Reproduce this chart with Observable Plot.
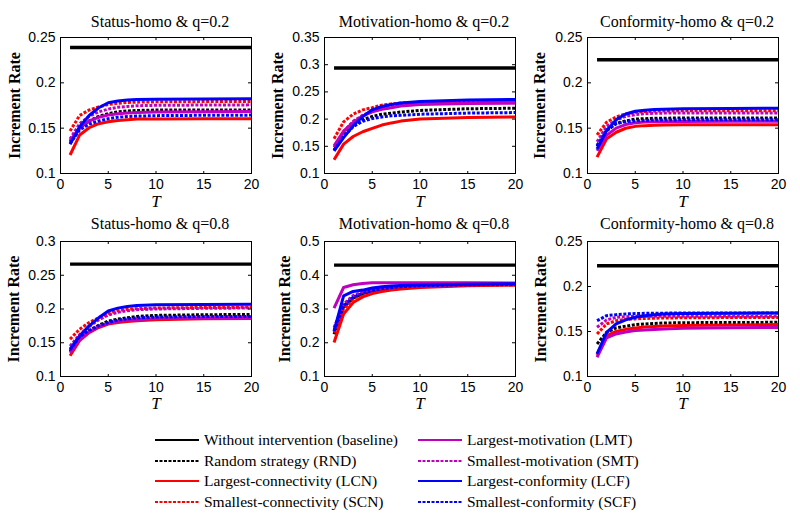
<!DOCTYPE html>
<html><head><meta charset="utf-8">
<script src="https://cdn.jsdelivr.net/npm/d3@7"></script>
<script src="https://cdn.jsdelivr.net/npm/@observablehq/plot@0.6"></script>
<style>
body{margin:0;background:#fff;}
#root{position:relative;width:800px;height:521px;overflow:hidden;background:#fff;}
.panel{position:absolute;}
.leg{position:absolute;height:20px;line-height:20px;font-family:"Liberation Serif","Times New Roman",serif;font-size:15.5px;color:#000;white-space:nowrap;}
.legline{position:absolute;}
</style></head><body><div id="root"></div>
<script>
// ---------- data ----------
const T = [1, 2, 3, 4, 5, 6, 7, 8, 10, 15, 20];
const xTicks = [0, 5, 10, 15, 20];
const seriesNames = ["Without intervention (baseline)", "Random strategy (RND)", "Largest-connectivity (LCN)", "Smallest-connectivity (SCN)", "Largest-motivation (LMT)", "Smallest-motivation (SMT)", "Largest-conformity (LCF)", "Smallest-conformity (SCF)"];
const seriesKeys = ["BASE", "RND", "LCN", "SCN", "LMT", "SMT", "LCF", "SCF"];
const panelTitles = ["Status-homo & q=0.2", "Motivation-homo & q=0.2", "Conformity-homo & q=0.2", "Status-homo & q=0.8", "Motivation-homo & q=0.8", "Conformity-homo & q=0.8"];
const yTicks1 = [0.1, 0.15, 0.2, 0.25];
const yTicks2 = [0.1, 0.15, 0.2, 0.25, 0.3, 0.35];
const yTicks3 = [0.1, 0.15, 0.2, 0.25];
const yTicks4 = [0.1, 0.15, 0.2, 0.25, 0.3];
const yTicks5 = [0.1, 0.2, 0.3, 0.4, 0.5];
const yTicks6 = [0.1, 0.15, 0.2, 0.25];

const statusQ02 = {
  BASE: [0.239, 0.239, 0.239, 0.239, 0.239, 0.239, 0.239, 0.239, 0.239, 0.239, 0.239],
  RND:  [0.135, 0.150, 0.158, 0.163, 0.166, 0.168, 0.169, 0.1695, 0.170, 0.170, 0.170],
  LCN:  [0.1204, 0.1424, 0.1505, 0.1549, 0.157, 0.1585, 0.1594, 0.160, 0.1602, 0.1604, 0.1604],
  SCN:  [0.1468, 0.164, 0.170, 0.1735, 0.176, 0.1775, 0.1783, 0.1787, 0.179, 0.1793, 0.1795],
  LMT:  [0.136, 0.150, 0.158, 0.162, 0.1645, 0.166, 0.1668, 0.1673, 0.1678, 0.1682, 0.1684],
  SMT:  [0.138, 0.155, 0.163, 0.168, 0.171, 0.173, 0.174, 0.1747, 0.1752, 0.1755, 0.1757],
  LCF:  [0.1322, 0.1516, 0.164, 0.1725, 0.178, 0.180, 0.181, 0.1815, 0.182, 0.1823, 0.1825],
  SCF:  [0.133, 0.148, 0.1545, 0.158, 0.1605, 0.162, 0.1628, 0.1633, 0.1638, 0.1642, 0.1644]
};
const motivationQ02 = {
  BASE: [0.294, 0.294, 0.294, 0.294, 0.294, 0.294, 0.294, 0.294, 0.294, 0.294, 0.294],
  RND:  [0.143, 0.172, 0.189, 0.199, 0.205, 0.209, 0.211, 0.213, 0.216, 0.219, 0.220],
  LCN:  [0.1252, 0.154, 0.168, 0.1767, 0.1828, 0.189, 0.193, 0.1963, 0.200, 0.203, 0.204],
  SCN:  [0.164, 0.195, 0.209, 0.217, 0.221, 0.2257, 0.228, 0.2295, 0.231, 0.2325, 0.233],
  LMT:  [0.151, 0.178, 0.194, 0.206, 0.2134, 0.218, 0.221, 0.224, 0.227, 0.2285, 0.229],
  SMT:  [0.148, 0.177, 0.196, 0.207, 0.214, 0.219, 0.222, 0.225, 0.228, 0.230, 0.231],
  LCF:  [0.1417, 0.166, 0.1877, 0.2048, 0.217, 0.2232, 0.227, 0.2294, 0.2324, 0.235, 0.236],
  SCF:  [0.142, 0.168, 0.186, 0.196, 0.201, 0.204, 0.206, 0.207, 0.209, 0.211, 0.212]
};
const conformityQ02 = {
  BASE: [0.2255, 0.2255, 0.2255, 0.2255, 0.2255, 0.2255, 0.2255, 0.2255, 0.2255, 0.2255, 0.2255],
  RND:  [0.130, 0.147, 0.155, 0.158, 0.160, 0.1605, 0.161, 0.161, 0.1612, 0.1613, 0.1613],
  LCN:  [0.118, 0.1382, 0.1455, 0.1499, 0.152, 0.1528, 0.1532, 0.1535, 0.1537, 0.1539, 0.1539],
  SCN:  [0.1426, 0.1565, 0.1624, 0.1657, 0.1675, 0.1683, 0.1687, 0.169, 0.1691, 0.1693, 0.1693],
  LMT:  [0.125, 0.142, 0.150, 0.154, 0.156, 0.1567, 0.157, 0.1572, 0.1574, 0.1576, 0.1576],
  SMT:  [0.135, 0.152, 0.159, 0.163, 0.165, 0.166, 0.1664, 0.1666, 0.1667, 0.1668, 0.1668],
  LCF:  [0.127, 0.1473, 0.1594, 0.1657, 0.1686, 0.1697, 0.1705, 0.171, 0.1714, 0.1718, 0.1719],
  SCF:  [0.131, 0.148, 0.155, 0.157, 0.158, 0.1585, 0.159, 0.159, 0.1592, 0.1594, 0.1594]
};
const statusQ08 = {
  BASE: [0.2665, 0.2665, 0.2665, 0.2665, 0.2665, 0.2665, 0.2665, 0.2665, 0.2665, 0.2665, 0.2665],
  RND:  [0.137, 0.156, 0.168, 0.176, 0.182, 0.185, 0.187, 0.189, 0.1905, 0.1915, 0.192],
  LCN:  [0.1307, 0.153, 0.165, 0.1726, 0.1776, 0.180, 0.1815, 0.1825, 0.184, 0.1855, 0.186],
  SCN:  [0.1554, 0.170, 0.180, 0.187, 0.1935, 0.1975, 0.1995, 0.2005, 0.2015, 0.2022, 0.2025],
  LMT:  [0.135, 0.155, 0.166, 0.174, 0.179, 0.182, 0.1835, 0.1845, 0.186, 0.187, 0.1875],
  SMT:  [0.145, 0.162, 0.174, 0.184, 0.191, 0.195, 0.1975, 0.199, 0.200, 0.201, 0.2015],
  LCF:  [0.1406, 0.160, 0.175, 0.187, 0.197, 0.2013, 0.2038, 0.2052, 0.2062, 0.2068, 0.207],
  SCF:  [0.139, 0.159, 0.168, 0.175, 0.180, 0.1835, 0.1855, 0.1868, 0.188, 0.1888, 0.189]
};
const motivationQ08 = {
  BASE: [0.430, 0.430, 0.430, 0.430, 0.430, 0.430, 0.430, 0.430, 0.430, 0.430, 0.430],
  RND:  [0.225, 0.305, 0.332, 0.345, 0.353, 0.358, 0.361, 0.364, 0.368, 0.371, 0.372],
  LCN:  [0.2008, 0.285, 0.319, 0.336, 0.346, 0.352, 0.356, 0.359, 0.364, 0.369, 0.371],
  SCN:  [0.230, 0.300, 0.330, 0.345, 0.354, 0.359, 0.362, 0.365, 0.368, 0.370, 0.371],
  LMT:  [0.3026, 0.3637, 0.3717, 0.3756, 0.3776, 0.378, 0.378, 0.378, 0.378, 0.3775, 0.377],
  SMT:  [0.245, 0.315, 0.340, 0.350, 0.357, 0.362, 0.365, 0.367, 0.370, 0.372, 0.373],
  LCF:  [0.2354, 0.339, 0.352, 0.356, 0.362, 0.366, 0.368, 0.3697, 0.371, 0.373, 0.375],
  SCF:  [0.235, 0.310, 0.335, 0.347, 0.355, 0.360, 0.363, 0.366, 0.369, 0.372, 0.373]
};
const conformityQ08 = {
  BASE: [0.223, 0.223, 0.223, 0.223, 0.223, 0.223, 0.223, 0.223, 0.223, 0.223, 0.223],
  RND:  [0.1362, 0.149, 0.154, 0.156, 0.1576, 0.1584, 0.159, 0.1594, 0.1598, 0.160, 0.1602],
  LCN:  [0.124, 0.1455, 0.150, 0.1524, 0.154, 0.155, 0.1555, 0.156, 0.1567, 0.1573, 0.1577],
  SCN:  [0.1473, 0.1584, 0.162, 0.1635, 0.164, 0.1645, 0.1648, 0.165, 0.1652, 0.1655, 0.1655],
  LMT:  [0.1214, 0.143, 0.1473, 0.1495, 0.151, 0.1517, 0.1523, 0.1528, 0.1535, 0.1542, 0.1545],
  SMT:  [0.1547, 0.1629, 0.1658, 0.1665, 0.1668, 0.167, 0.167, 0.167, 0.167, 0.167, 0.167],
  LCF:  [0.1252, 0.149, 0.1584, 0.1629, 0.1658, 0.1676, 0.1686, 0.1694, 0.170, 0.1703, 0.1705],
  SCF:  [0.162, 0.1676, 0.1687, 0.1695, 0.170, 0.1702, 0.1703, 0.1704, 0.1705, 0.1706, 0.1706]
};

// ---------- styles / layout ----------
const colors = {BASE: "#000000", RND: "#000000", LCN: "#ff0000", SCN: "#ff0000", LMT: "#bf00bf", SMT: "#bf00bf", LCF: "#0000ff", SCF: "#0000ff"};
const dashed = {BASE: false, RND: true, LCN: false, SCN: true, LMT: false, SMT: true, LCF: false, SCF: true};
const panels = [
  {data: statusQ02, ticks: yTicks1, left: 0, top: 0, row: 0, ylab: -41},
  {data: motivationQ02, ticks: yTicks2, left: 263.5, top: 0, row: 0, ylab: -42},
  {data: conformityQ02, ticks: yTicks3, left: 526.7, top: 0, row: 0, ylab: -42.5},
  {data: statusQ08, ticks: yTicks4, left: 0, top: 204, row: 1, ylab: -41.5},
  {data: motivationQ08, ticks: yTicks5, left: 263.5, top: 204, row: 1, ylab: -35},
  {data: conformityQ08, ticks: yTicks6, left: 526.7, top: 204, row: 1, ylab: -42}
];
const serif = "Liberation Serif, Times New Roman, serif";
const root = document.getElementById("root");
const W = 191;
panels.forEach((p, i) => {
  const H = p.row === 0 ? 136 : 135;
  const mT = 37, mL = 60, mR = 14, mB = p.row === 0 ? 31 : 30;
  const marks = [];
  for (const k of seriesKeys) {
    const rows = T.map((t, j) => ({T: t, v: p.data[k][j]}));
    marks.push(Plot.line(rows, {
      x: "T", y: "v", stroke: colors[k],
      strokeWidth: k === "BASE" ? 3.4 : 3,
      strokeDasharray: dashed[k] ? "3,1.6" : null,
      strokeLinejoin: "round", strokeLinecap: "butt"
    }));
  }
  marks.push(
    Plot.frame({stroke: "#000", strokeWidth: 1}),
    Plot.axisX(xTicks, {anchor: "bottom", tickSize: 0, tickPadding: 6, fontSize: 14, tickFormat: d => String(d), label: null}),
    Plot.axisY(p.ticks, {anchor: "left", tickSize: 0, tickPadding: 5, fontSize: 14, tickFormat: d => String(d), label: null}),
    Plot.axisY(p.ticks, {anchor: "right", tickSize: 3, fill: "none", dx: -W, label: null}),
    Plot.axisY(p.ticks, {anchor: "left", tickSize: 3, fill: "none", dx: W, label: null}),
    Plot.axisX(xTicks, {anchor: "top", tickSize: 3, fill: "none", dy: H, label: null}),
    Plot.axisX(xTicks, {anchor: "bottom", tickSize: 3, fill: "none", dy: -H, label: null}),
    Plot.text([panelTitles[i]], {text: d => d, frameAnchor: "top", textAnchor: "middle", lineAnchor: "bottom", dx: 4, dy: p.row === 0 ? -10.5 : -12.5, fontFamily: serif, fontSize: 16, fill: "#000"}),
    Plot.text(["Increment Rate"], {text: d => d, frameAnchor: "left", textAnchor: "middle", lineAnchor: "bottom", rotate: -90, dx: p.ylab, fontFamily: serif, fontSize: 16, fontWeight: "bold", fill: "#000"}),
    Plot.text(["T"], {text: d => d, frameAnchor: "bottom", textAnchor: "middle", lineAnchor: "bottom", dy: p.row === 0 ? 33 : 32, fontFamily: serif, fontSize: 17, fontStyle: "italic", fill: "#000"})
  );
  const svg = Plot.plot({
    width: mL + W + mR, height: mT + H + mB,
    marginLeft: mL, marginRight: mR, marginTop: mT, marginBottom: mB,
    x: {domain: [0, 20], label: null},
    y: {domain: [p.ticks[0], p.ticks[p.ticks.length - 1]], label: null},
    style: {fontFamily: "Liberation Sans, Arial, sans-serif", fontSize: "14px", color: "#000", background: "transparent", overflow: "visible"},
    marks
  });
  const div = document.createElement("div");
  div.className = "panel";
  div.style.left = p.left + "px";
  div.style.top = p.top + "px";
  div.style.width = (mL + W + mR) + "px";
  div.appendChild(svg);
  root.appendChild(div);
});

// ---------- legend ----------
const legRowY = [439.5, 460.5, 481.2, 502];
const legLineX = [155, 418];
const legTextX = [204, 467];
seriesKeys.forEach((k, i) => {
  const col = i < 4 ? 0 : 1, row = i % 4;
  const y = legRowY[row];
  const s = d3.create("svg").attr("class", "legline").attr("width", 44).attr("height", 6)
    .style("left", legLineX[col] + "px").style("top", (y - 3) + "px");
  s.append("line").attr("x1", 0).attr("x2", 44).attr("y1", 3).attr("y2", 3)
    .attr("stroke", colors[k]).attr("stroke-width", 2.2)
    .attr("stroke-dasharray", dashed[k] ? "3,1.5" : null);
  root.appendChild(s.node());
  const t = document.createElement("div");
  t.className = "leg";
  t.style.left = legTextX[col] + "px";
  t.style.top = (y - 10) + "px";
  t.textContent = seriesNames[i];
  root.appendChild(t);
});
</script></body></html>
